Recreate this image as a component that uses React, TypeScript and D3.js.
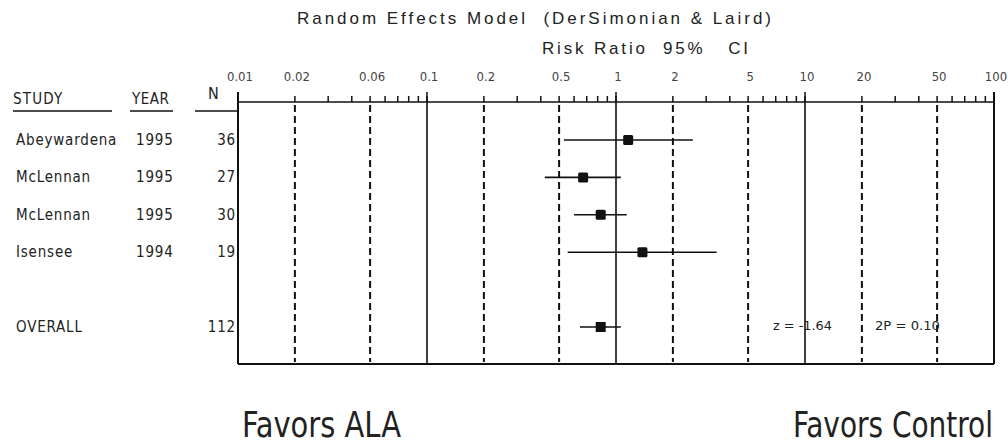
import React from 'react';
import * as d3 from 'd3';

const studies = ['Abeywardena', 'McLennan', 'McLennan', 'Isensee'];
const years = ['1995', '1995', '1995', '1994'];
const nValues = [36, 27, 30, 19];
const riskRatios = [1.16, 0.67, 0.83, 1.38];
const lowerCI = [0.53, 0.42, 0.6, 0.555];
const upperCI = [2.55, 1.06, 1.14, 3.41];

const overallLabel = 'OVERALL';
const overallN = 112;
const overallRR = [0.83];
const overallLower = [0.645];
const overallUpper = [1.06];

const tickValues = [0.01, 0.02, 0.05, 0.1, 0.2, 0.5, 1, 2, 5, 10, 20, 50, 100];
const tickLabels = ['0.01', '0.02', '0.06', '0.1', '0.2', '0.5', '1', '2', '5', '10', '20', '50', '100'];
const solidLines = [0.1, 1, 10];
const dashedLines = [0.02, 0.05, 0.2, 0.5, 2, 5, 20, 50];
const majorTicks = [0.01, 0.1, 1, 10, 100];

const title = 'Random Effects Model  (DerSimonian & Laird)';
const subtitle = 'Risk Ratio  95%   CI';
const zText = 'z = -1.64';
const pText = '2P = 0.10';
const leftLabel = 'Favors ALA';
const rightLabel = 'Favors Control';

const NARROW = "'Liberation Sans Narrow', 'Arial Narrow', 'DejaVu Sans Condensed', sans-serif";
const SANS = "'Liberation Sans', Arial, sans-serif";

export default function App() {
  const left = 238, right = 994, top = 102, bottom = 364;
  const x = d3.scaleLog().domain([0.01, 100]).range([left, right]);
  const y = d3.scaleLinear().domain([0, 5]).range([140, 327]);
  const minor = x.ticks();
  const ink = '#111';
  const textCol = '#222';
  const rowFont = { fontFamily: NARROW, fontSize: 15, fill: textCol, letterSpacing: 0.8 } as any;

  const rows = studies.map((s, i) => ({ s, yr: years[i], n: nValues[i], rr: riskRatios[i], lo: lowerCI[i], hi: upperCI[i], yy: y(i) }));
  const overallY = y(5);

  return (
    <svg width={1008} height={446} style={{ position: 'absolute', left: 0, top: 0, background: '#fff' }}>
      <text x={297} y={24} textLength={474} lengthAdjust="spacing" style={{ whiteSpace: 'pre', fontSize: '17px' }}
        fontFamily={SANS} fill={textCol}>{title}</text>
      <text x={542} y={54} textLength={206} lengthAdjust="spacing" style={{ whiteSpace: 'pre', fontSize: '17px' }}
        fontFamily={SANS} fill={textCol}>{subtitle}</text>

      {tickValues.map((t, i) => (
        <text key={'tl' + i} x={x(t) + 2} y={81} textAnchor="middle" fontFamily={NARROW} fontSize={13} fill="#444">{tickLabels[i]}</text>
      ))}

      {minor.map((t, i) => (
        <line key={'mt' + i} x1={x(t)} x2={x(t)} y1={top} y2={top - 6} stroke={ink} strokeWidth={1.5} />
      ))}
      {majorTicks.map((t, i) => (
        <line key={'Mt' + i} x1={x(t)} x2={x(t)} y1={top} y2={top - 10} stroke={ink} strokeWidth={1.5} />
      ))}

      {dashedLines.map((t, i) => (
        <line key={'dl' + i} x1={x(t)} x2={x(t)} y1={top + 3} y2={bottom - 2} stroke={ink} strokeWidth={2} strokeDasharray="7,4" />
      ))}
      {solidLines.map((t, i) => (
        <line key={'sl' + i} x1={x(t)} x2={x(t)} y1={top} y2={bottom} stroke={ink} strokeWidth={1.6} />
      ))}

      <line x1={left} x2={right} y1={top} y2={top} stroke={ink} strokeWidth={1.6} />
      <line x1={left} x2={right} y1={bottom} y2={bottom} stroke={ink} strokeWidth={2} />
      <line x1={left} x2={left} y1={top - 10} y2={bottom} stroke={ink} strokeWidth={2} />
      <line x1={right} x2={right} y1={top - 10} y2={bottom} stroke={ink} strokeWidth={2} />

      <text x={13} y={104} fontFamily={NARROW} fontSize={15} fill={textCol} letterSpacing={1.2}>STUDY</text>
      <line x1={13} x2={112} y1={111} y2={111} stroke={ink} strokeWidth={1.5} />
      <text x={132} y={104} fontFamily={NARROW} fontSize={15} fill={textCol} letterSpacing={0.5}>YEAR</text>
      <line x1={130} x2={173} y1={111} y2={111} stroke={ink} strokeWidth={1.5} />
      <text x={208} y={99} fontFamily={NARROW} fontSize={16} fill={textCol}>N</text>
      <line x1={195} x2={left} y1={111} y2={111} stroke={ink} strokeWidth={1.5} />

      {rows.map((r, i) => (
        <g key={'r' + i}>
          <text x={16} y={r.yy + 5} {...rowFont}>{r.s}</text>
          <text x={136} y={r.yy + 5} {...rowFont}>{r.yr}</text>
          <text x={236} y={r.yy + 5} textAnchor="end" {...rowFont}>{r.n}</text>
          <line x1={x(r.lo)} x2={x(r.hi)} y1={r.yy} y2={r.yy} stroke={ink} strokeWidth={1.6} />
          <rect x={x(r.rr) - 5} y={r.yy - 5} width={10} height={10} rx={1.5} fill={ink} />
        </g>
      ))}

      <text x={16} y={overallY + 5} {...rowFont}>{overallLabel}</text>
      <text x={236} y={overallY + 5} textAnchor="end" {...rowFont}>{overallN}</text>
      {overallRR.map((rr, i) => (
        <g key={'o' + i}>
          <line x1={x(overallLower[i])} x2={x(overallUpper[i])} y1={overallY} y2={overallY} stroke={ink} strokeWidth={1.6} />
          <rect x={x(rr) - 5} y={overallY - 5} width={10} height={10} fill={ink} />
        </g>
      ))}

      <text x={773} y={overallY + 3} textLength={59} lengthAdjust="spacingAndGlyphs" fontFamily={NARROW} fontSize={13} fill={textCol}>{zText}</text>
      <text x={875} y={overallY + 3} textLength={65} lengthAdjust="spacingAndGlyphs" fontFamily={NARROW} fontSize={13} fill={textCol}>{pText}</text>

      <g transform={`translate(242,437) scale(${159 / 185},1)`}>
        <text x={0} y={0} textLength={185} lengthAdjust="spacingAndGlyphs" fontFamily={NARROW} fontSize={35} fill={textCol}>{leftLabel}</text>
      </g>
      <g transform={`translate(793,437) scale(${200 / 235},1)`}>
        <text x={0} y={0} textLength={235} lengthAdjust="spacingAndGlyphs" fontFamily={NARROW} fontSize={35} fill={textCol}>{rightLabel}</text>
      </g>
    </svg>
  );
}
